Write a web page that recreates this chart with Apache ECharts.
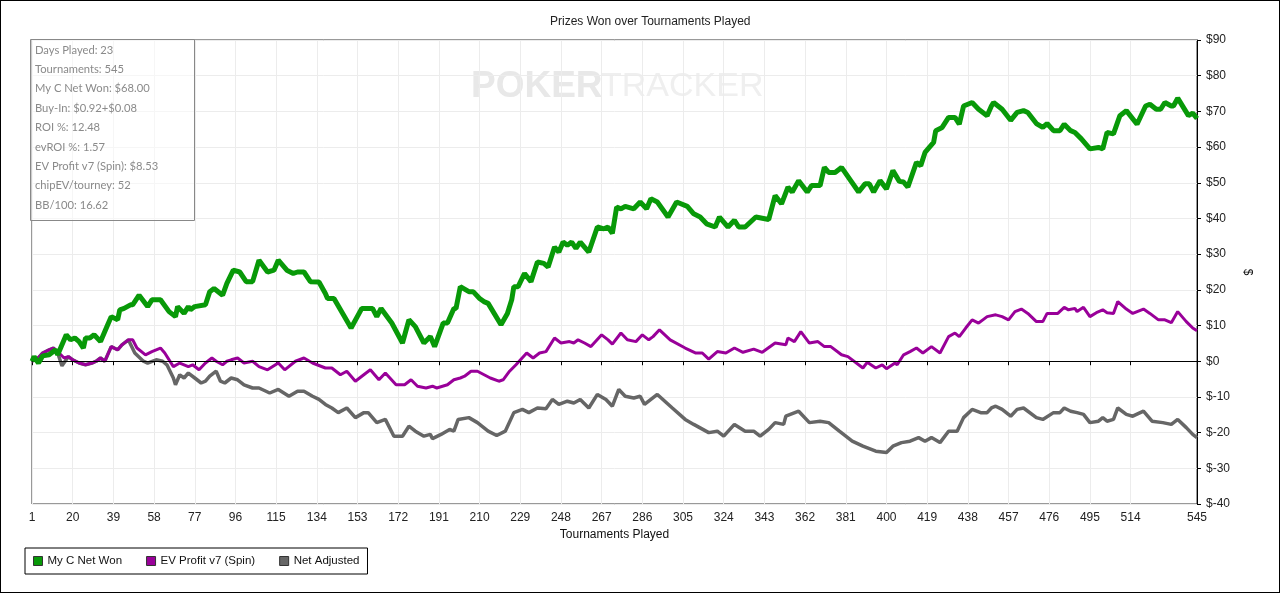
<!DOCTYPE html>
<html>
<head>
<meta charset="utf-8">
<script src="https://cdn.jsdelivr.net/npm/echarts@6/dist/echarts.min.js"></script>
<style>
  html, body { margin: 0; padding: 0; background: #fff; }
  #chart { width: 1280px; height: 593px; box-sizing: border-box; border: 1px solid #000; }
</style>
</head>
<body>
<div id="chart"></div>
<script>
// tick labels shown under the x axis
var tournamentTicks = [1, 20, 39, 58, 77, 96, 115, 134, 153, 172, 191, 210, 229, 248, 267, 286, 305, 324, 343, 362, 381, 400, 419, 438, 457, 476, 495, 514, 545];

var seriesNames = ['My C Net Won', 'EV Profit v7 (Spin)', 'Net Adjusted'];

var statsLines = [
  'Days Played: 23',
  'Tournaments: 545',
  'My C Net Won: $68.00',
  'Buy-In: $0.92+$0.08',
  'ROI %: 12.48',
  'evROI %: 1.57',
  'EV Profit v7 (Spin): $8.53',
  'chipEV/tourney: 52',
  'BB/100: 16.62'
];

// [tournament, $]
var netWon = [[1,0],[2,1.3],[4,-0.5],[6,1.5],[9,1.8],[12,3.2],[13,1.8],[15,4.6],[17,7.4],[19,6],[21,6.5],[23,5.5],[25,3.7],[26,6.5],[28,6.5],[30,7.4],[33,5.5],[36,9.7],[38,12.5],[41,11.6],[42,14.4],[44,14.8],[47,15.8],[48,15.8],[51,18.5],[55,15.3],[57,17.2],[61,17.2],[65,13.9],[68,12.5],[69,15.3],[72,13.4],[74,15.3],[75,14.4],[77,15.3],[82,15.8],[84,19.5],[86,20.4],[90,18.5],[92,21.8],[95,25.5],[98,25],[101,22.3],[104,22.3],[107,28.3],[111,25],[114,25.5],[116,28.3],[120,25.5],[123,24.6],[125,25],[128,25],[131,22.3],[135,22.2],[138,19],[139,17.6],[142,17.6],[150,9.3],[155,14.8],[160,14.8],[162,12.5],[164,14.8],[169,10.7],[174,5.1],[177,11.6],[180,9.7],[184,5.1],[187,6.9],[189,4.1],[193,10.7],[195,10.7],[198,14.8],[199,14.8],[201,20.9],[205,19.5],[207,19.5],[210,17.6],[212,16.7],[214,16.2],[220,10.2],[223,13.4],[225,17.2],[226,20.9],[228,20.9],[231,24.6],[234,22.3],[237,27.8],[240,27.4],[242,26.4],[245,32],[247,30.6],[249,33.4],[251,32.5],[253,33.4],[255,31.6],[257,33.4],[261,30.6],[265,37.6],[268,37.1],[270,37.6],[272,35.8],[274,43.2],[276,42.7],[278,43.4],[282,42.7],[285,44.6],[288,42.7],[290,45.5],[293,44.6],[298,40.4],[302,44.6],[307,43.4],[310,41.3],[313,40.4],[316,38.5],[320,37.6],[322,40.4],[326,37.6],[329,39.5],[331,37.6],[334,37.6],[339,40.4],[345,39.7],[348,46.4],[351,44.1],[354,48.8],[356,47.4],[359,50.6],[363,47.4],[365,49.2],[369,49.2],[371,54.3],[373,52.9],[376,52.9],[379,54.3],[387,47.4],[390,49.7],[392,49.7],[394,47.4],[397,50.6],[400,48.3],[403,53.4],[406,50.4],[408,50.2],[410,48.8],[414,55.7],[416,54.8],[418,58.5],[422,61.3],[423,64.6],[426,65.5],[429,68.3],[432,68.3],[434,66.4],[436,71.5],[440,72.5],[443,70.6],[447,68.8],[449,71.5],[450,72.5],[454,70.6],[458,67.5],[461,69.7],[464,70.2],[466,69.7],[470,66.6],[473,65.5],[475,66.6],[478,64.6],[481,64.6],[483,66.4],[486,64.6],[488,64.1],[491,62.3],[495,59.5],[499,59.9],[501,59.5],[503,64.1],[506,63.7],[509,68.8],[512,70.2],[517,66.4],[521,71.5],[523,72],[526,70.6],[528,70.6],[530,72.5],[533,71.5],[534,71.5],[536,73.7],[541,68.8],[543,69.5],[545,68]];

var evProfit = [[1,0],[4,1],[6,2.3],[9,3.2],[11,3.7],[13,2.7],[16,0.9],[18,1.3],[20,0.4],[23,-0.5],[26,-1],[29,-0.5],[31,0],[33,0.9],[35,0],[38,4.1],[41,3.2],[43,4.6],[46,6],[48,6],[50,3.7],[54,1.8],[57,2.7],[61,3.7],[63,2.3],[67,-1.5],[70,-0.5],[74,-1.5],[76,-1],[79,-2.4],[82,-0.5],[85,0.9],[87,0],[90,-1],[92,0],[94,0.4],[97,0.9],[100,-0.5],[104,0],[107,-1.5],[111,-2.4],[116,-0.5],[119,-2.4],[124,0],[128,0.9],[132,-0.5],[138,-1.9],[141,-1.9],[145,-3.8],[148,-2.8],[152,-5.6],[157,-3.3],[159,-2.4],[163,-5.2],[166,-3.3],[171,-6.6],[175,-6.6],[178,-5.2],[181,-7],[185,-7.5],[188,-7],[190,-7.5],[195,-6.6],[198,-5.2],[201,-4.7],[203,-4.2],[206,-2.8],[209,-2.8],[215,-4.7],[219,-5.6],[221,-5.2],[224,-2.8],[227,-1],[232,2.3],[235,0.9],[238,2.3],[241,2.7],[245,6.5],[248,5.1],[252,5.5],[254,5.1],[256,6],[259,5.1],[262,4.1],[267,7.4],[270,6],[272,4.8],[276,7.9],[279,6],[283,5.5],[286,7.4],[289,6],[291,6.9],[294,8.8],[299,6],[306,3.7],[311,2.3],[314,2.3],[317,0.6],[321,2.7],[325,2.3],[329,3.7],[333,2.5],[338,3.4],[342,2.5],[348,5.1],[353,4.6],[354,6.5],[357,5.5],[360,8.3],[364,5.1],[368,5.5],[371,4.1],[374,4.1],[379,1.8],[382,1.3],[389,-1.9],[391,-0.3],[395,-1.9],[398,-1],[400,-2.1],[404,-0.5],[405,-1],[408,1.8],[411,2.7],[414,3.7],[417,2.3],[421,4.1],[425,2.3],[429,6.9],[432,7.9],[434,6.9],[437,9.3],[440,11.6],[443,10.7],[445,11.6],[447,12.5],[451,13],[454,12.5],[457,11.6],[460,13.9],[463,14.6],[466,13.4],[470,11.1],[473,11.1],[475,13.4],[480,13.4],[483,15.1],[485,14.4],[488,14.8],[489,13.9],[492,15.1],[495,12.5],[498,13.6],[501,14.4],[503,13.6],[506,13.4],[508,16.7],[512,14.6],[515,13.4],[520,14.6],[523,13.4],[527,11.6],[530,11.6],[533,10.8],[536,13.9],[540,11.1],[543,9.3],[545,8.53]];

var netAdjusted = [[1,0],[4,1],[6,2.3],[9,3.2],[11,3.7],[13,2.3],[15,-1.3],[18,1.3],[20,0.4],[23,-0.5],[26,-1],[29,-0.5],[31,0],[33,0.9],[35,0],[38,4.1],[41,3.2],[43,4.6],[46,6],[49,2.3],[53,0],[55,-0.5],[59,0.4],[62,0],[64,-1],[67,-4.7],[68,-6.6],[70,-3.8],[72,-4.7],[74,-3.3],[77,-4.7],[80,-6.1],[82,-5.6],[84,-4.2],[87,-2.8],[89,-5.6],[91,-6.1],[94,-4.7],[97,-5.2],[100,-6.6],[104,-7.5],[107,-7.5],[112,-8.9],[116,-7.9],[121,-9.8],[125,-8.4],[128,-8.4],[132,-9.8],[135,-10.7],[138,-12.1],[141,-13.1],[144,-14.4],[148,-13.1],[152,-15.8],[156,-14.4],[158,-14.4],[162,-17.2],[166,-16.3],[170,-21],[174,-21],[177,-18.2],[180,-19.6],[184,-21],[187,-20.5],[188,-21.7],[192,-20.5],[196,-19.1],[198,-19.6],[200,-16.3],[205,-15.8],[209,-17.2],[214,-19.6],[218,-20.8],[222,-19.6],[226,-14.4],[230,-13.5],[233,-14.4],[237,-13.1],[241,-13.3],[244,-10.7],[247,-12.1],[251,-11.2],[254,-11.7],[257,-10.7],[261,-13.1],[265,-9.3],[269,-10.7],[272,-12.6],[275,-7.9],[278,-9.8],[282,-10.3],[285,-9.8],[287,-12.1],[290,-10.7],[293,-9.3],[300,-13.1],[306,-16.3],[310,-17.7],[317,-20],[321,-19.6],[324,-21],[329,-17.7],[334,-19.6],[338,-19.6],[341,-21],[345,-19.1],[348,-17.2],[352,-17.7],[353,-15.4],[359,-14],[364,-17.2],[369,-16.8],[373,-17.2],[378,-19.6],[384,-22.4],[389,-23.8],[395,-25.2],[400,-25.6],[403,-23.8],[407,-22.8],[411,-22.4],[415,-21.4],[418,-22.4],[421,-21.4],[425,-22.8],[429,-19.6],[433,-19.6],[436,-15.8],[440,-13.5],[444,-14.4],[447,-14.4],[449,-13.1],[451,-12.6],[454,-13.5],[458,-15.4],[461,-13.5],[464,-13.1],[470,-15.8],[473,-16.3],[478,-14.4],[481,-14.4],[483,-13.1],[486,-14],[489,-14.4],[492,-14.9],[495,-17.2],[499,-16.8],[501,-15.8],[503,-16.8],[506,-16.3],[508,-13.1],[512,-14.9],[515,-15.4],[520,-14],[524,-16.8],[529,-17.2],[533,-17.7],[536,-16.3],[540,-18.6],[543,-20.5],[545,-21.4]];

var colors = ['#089908', '#990099', '#666666'];

var chart = echarts.init(document.getElementById('chart'));

// stats box in the top left corner
var statsGraphics = [{
  type: 'rect',
  shape: { x: 29.5, y: 38.5, width: 164, height: 181 },
  style: { fill: 'rgba(255,255,255,0.5)', stroke: '#888', lineWidth: 1 },
  z: 100
}];
statsLines.forEach(function (s, i) {
  statsGraphics.push({
    type: 'text',
    x: 34, y: 49 + i * 19.4,
    style: { text: s, fill: '#8a8a8a', font: '11.2px Lato, sans-serif', verticalAlign: 'middle' },
    z: 101
  });
});

// faint watermark
statsGraphics.push({
  type: 'text', x: 470, y: 86,
  style: { text: 'POKER', fill: '#e8e8e8', font: 'bold 37px "Liberation Sans", sans-serif', verticalAlign: 'middle' },
  z: 0
});
statsGraphics.push({
  type: 'text', x: 600, y: 86,
  style: { text: 'TRACKER', fill: '#efefef', font: '34px "Liberation Sans", sans-serif', verticalAlign: 'middle' },
  z: 0
});

var option = {
  animation: false,
  backgroundColor: '#fff',
  textStyle: { fontFamily: '"Liberation Sans", Arial, sans-serif' },
  title: {
    text: 'Prizes Won over Tournaments Played',
    left: 544, top: 10,
    textStyle: { fontSize: 12, fontWeight: 'normal', color: '#222' }
  },
  legend: {
    left: 24, top: 547,
    icon: 'rect', itemWidth: 9, itemHeight: 9, itemGap: 24,
    padding: [7, 8, 7, 8],
    borderColor: '#000', borderWidth: 1,
    backgroundColor: '#fff',
    textStyle: { fontSize: 11.5, color: '#111' },
    itemStyle: { borderColor: '#333', borderWidth: 1 },
    data: seriesNames
  },
  grid: {
    left: 31, top: 39, right: 82, bottom: 88,
    show: true, borderColor: '#333', borderWidth: 1
  },
  xAxis: {
    type: 'value', min: 1, max: 545,
    name: 'Tournaments Played', nameLocation: 'middle', nameGap: 24,
    nameTextStyle: { fontSize: 12, color: '#111' },
    axisLine: { lineStyle: { color: '#000' } },
    axisTick: { show: true, customValues: tournamentTicks, length: 4, lineStyle: { color: '#000' } },
    axisLabel: { customValues: tournamentTicks, fontSize: 12, color: '#222', margin: 8 },
    splitLine: { show: true, lineStyle: { color: '#ececec' } }
  },
  yAxis: {
    type: 'value', position: 'right', min: -40, max: 90, interval: 10,
    name: '$', nameLocation: 'middle', nameGap: 40, nameRotate: -90,
    nameTextStyle: { fontSize: 12, color: '#111' },
    axisLine: { show: true, lineStyle: { color: '#000' } },
    axisTick: { show: true, length: 4, lineStyle: { color: '#000' } },
    axisLabel: { fontSize: 12, color: '#222', margin: 9, formatter: function (v) { return '$' + v; } },
    splitLine: { show: true, lineStyle: { color: '#ececec' } }
  },
  series: [
    {
      name: seriesNames[2], type: 'line', data: netAdjusted, showSymbol: false, z: 3,
      color: colors[2], lineStyle: { width: 3.5, color: colors[2] },
      markLine: {
        silent: true, symbol: 'none', label: { show: false },
        lineStyle: { color: '#000', width: 1, type: 'solid' },
        data: [{ yAxis: 0 }]
      }
    },
    {
      name: seriesNames[1], type: 'line', data: evProfit, showSymbol: false, z: 4,
      color: colors[1], lineStyle: { width: 3, color: colors[1] }
    },
    {
      name: seriesNames[0], type: 'line', data: netWon, showSymbol: false, z: 5,
      color: colors[0], lineStyle: { width: 5, color: colors[0] }
    }
  ],
  graphic: statsGraphics
};

chart.setOption(option);
</script>
</body>
</html>
